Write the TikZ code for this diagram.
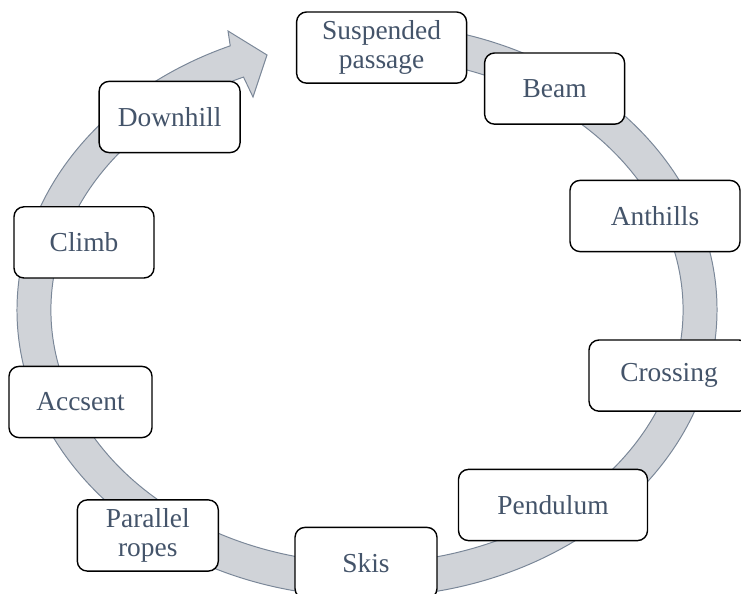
\documentclass[tikz,border=0pt]{standalone}
\usepackage{fontspec}
\setmainfont{Liberation Serif}
\usepackage{tikz}

\definecolor{slatetext}{HTML}{44546A}
\definecolor{bandfill}{HTML}{D0D3D8}
\definecolor{bandline}{HTML}{7A8798}

\tikzset{
  station/.style={draw=black, fill=white, rounded corners=0.25cm, line width=1pt,
    minimum width=3.5cm, minimum height=1.78cm, align=center, inner sep=2pt,
    text=slatetext, font=\fontsize{19.5}{21}\selectfont},
  band/.style={fill=bandfill, draw=bandline, line width=0.7pt, line join=miter}
}

\begin{document}
\begin{tikzpicture}
\useasboundingbox (0,0) rectangle (18.525,14.85);
% circular arrow
\filldraw[band] (9.175,7.1) ++(85:8.75 and 7.175)
  arc[start angle=85, end angle=-247, x radius=8.75, y radius=7.175]
  -- (5.7,14.075) -- (6.675,13.475) -- (6.325,12.425) -- (6.088,12.922)
  arc[start angle=-247, end angle=85, x radius=7.9, y radius=6.325] -- cycle;
% stations
\node[station, minimum width=4.25cm] (susp) at (9.54,13.66) {Suspended\\passage};
\node[station] (beam) at (13.865,12.635) {Beam};
\node[station, minimum width=4.25cm] (anthills) at (16.375,9.45) {Anthills};
\node[station, minimum width=4cm] (crossing) at (16.725,5.46) {Crossing};
\node[station, minimum width=4.725cm] (pendulum) at (13.825,2.225) {Pendulum};
\node[station, minimum width=3.55cm] (skis) at (9.15,0.775) {Skis};
\node[station, minimum width=3.525cm] (ropes) at (3.695,1.4625) {Parallel\\ropes};
\node[station, minimum width=3.575cm] (accsent) at (2.0125,4.8) {Accsent};
\node[station] (climb) at (2.1,8.79) {Climb};
\node[station, minimum width=3.525cm] (downhill) at (4.24,11.925) {Downhill};
\end{tikzpicture}
\end{document}
